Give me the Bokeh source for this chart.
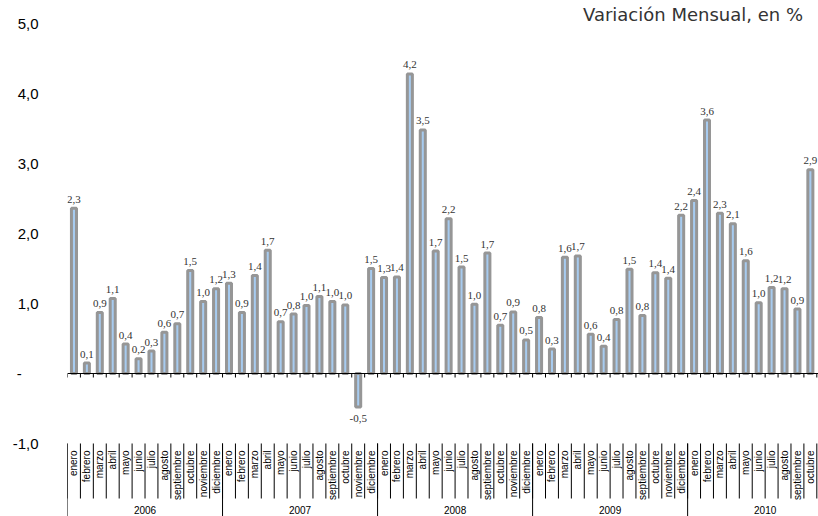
import math
from bokeh.plotting import figure
from bokeh.models import ColumnDataSource, FixedTicker, CustomJSTickFormatter, Range1d
from bokeh.core.properties import value
from bokeh.embed import file_html
from bokeh.resources import INLINE

# ---------------- data ----------------
years = ["2006", "2007", "2008", "2009", "2010"]
months = ["enero", "febrero", "marzo", "abril", "mayo", "junio", "julio",
          "agosto", "septiembre", "octubre", "noviembre", "diciembre"]

v2006 = [2.36, 0.15, 0.87, 1.07, 0.42, 0.21, 0.32, 0.59, 0.71, 1.47, 1.03, 1.21]
v2007 = [1.29, 0.87, 1.40, 1.76, 0.74, 0.85, 0.97, 1.10, 1.03, 0.98, -0.48, 1.50]
v2008 = [1.37, 1.38, 4.28, 3.48, 1.75, 2.21, 1.52, 0.99, 1.72, 0.69, 0.88, 0.48]
v2009 = [0.80, 0.35, 1.66, 1.68, 0.56, 0.39, 0.77, 1.49, 0.83, 1.44, 1.36, 2.26]
v2010 = [2.47, 3.62, 2.29, 2.14, 1.61, 1.01, 1.23, 1.21, 0.92, 2.91]

l2006 = ["2,3", "0,1", "0,9", "1,1", "0,4", "0,2", "0,3", "0,6", "0,7", "1,5", "1,0", "1,2"]
l2007 = ["1,3", "0,9", "1,4", "1,7", "0,7", "0,8", "1,0", "1,1", "1,0", "1,0", "-0,5", "1,5"]
l2008 = ["1,3", "1,4", "4,2", "3,5", "1,7", "2,2", "1,5", "1,0", "1,7", "0,7", "0,9", "0,5"]
l2009 = ["0,8", "0,3", "1,6", "1,7", "0,6", "0,4", "0,8", "1,5", "0,8", "1,4", "1,4", "2,2"]
l2010 = ["2,4", "3,6", "2,3", "2,1", "1,6", "1,0", "1,2", "1,2", "0,9", "2,9"]

y_ticks = [-1, 0, 1, 2, 3, 4, 5]
title_text = "Variación Mensual, en %"

series = [v2006, v2007, v2008, v2009, v2010]
label_series = [l2006, l2007, l2008, l2009, l2010]

vals, labs, mnames = [], [], []
for vs, ls in zip(series, label_series):
    vals += vs
    labs += ls
    mnames += months[:len(vs)]
n = len(vals)
xs = list(range(n))

# ---------------- figure ----------------
Y0, Y1 = -2.043, 5.329
X1 = n - 0.5 + 0.13
p = figure(width=818, height=516, output_backend="svg", toolbar_location=None,
           x_range=Range1d(-0.5, X1), y_range=Range1d(Y0, Y1),
           x_axis_location=None, min_border_left=67, min_border_right=0,
           min_border_top=0, min_border_bottom=0)
p.outline_line_color = None
p.xgrid.visible = False
p.ygrid.visible = False
p.background_fill_color = "white"
p.border_fill_color = "white"

ax = p.yaxis[0]
ax.ticker = FixedTicker(ticks=y_ticks)
ax.formatter = CustomJSTickFormatter(code="""
    if (Math.abs(tick) < 1e-9) { return "-\\u00a0\\u00a0\\u00a0\\u00a0"; }
    return tick.toFixed(1).replace(".", ",");
""")
ax.axis_line_color = None
ax.major_tick_line_color = None
ax.minor_tick_line_color = None
ax.major_tick_out = 0
ax.major_tick_in = 0
ax.major_label_standoff = 29
ax.major_label_text_font = "Liberation Sans"
ax.major_label_text_font_size = "15px"
ax.major_label_text_color = "#000000"

# bars
src = ColumnDataSource(dict(x=xs, top=vals, lab=labs, m=mnames))
p.vbar(x="x", top="top", bottom=0, width=0.39, source=src,
       fill_color="#a7cbef", line_color="#969696", line_width=3)

# zero axis line and tick marks at category boundaries
p.segment(x0=[-0.5], y0=[0], x1=[X1], y1=[0], line_color="#000000", line_width=1)
bounds = [i - 0.5 for i in range(n + 1)]
p.segment(x0=bounds, y0=[0] * len(bounds), x1=bounds, y1=[-4 / 70] * len(bounds),
          line_color="#000000", line_width=1)

# value labels
pos = [i for i in range(n) if vals[i] >= 0]
neg = [i for i in range(n) if vals[i] < 0]
p.text(x=[xs[i] for i in pos], y=[vals[i] for i in pos], text=[labs[i] for i in pos],
       text_align="center", text_baseline="alphabetic", y_offset=-9,
       text_font=value("Liberation Serif"), text_font_size="11px", text_color="#333333")
p.text(x=[xs[i] for i in neg], y=[vals[i] for i in neg], text=[labs[i] for i in neg],
       text_align="center", text_baseline="top", y_offset=8,
       text_font=value("Liberation Serif"), text_font_size="11px", text_color="#333333")

# category labels (months) at the bottom
p.text(x=xs, y=[-1.1] * n, text=mnames, angle=math.pi / 2,
       text_align="right", text_baseline="middle",
       text_font=value("Liberation Sans"), text_font_size="10px", text_color="#000000")
p.segment(x0=bounds, y0=[-1.0] * len(bounds), x1=bounds, y1=[-1.786] * len(bounds),
          line_color="#000000", line_width=1)

# year group labels and separators
ybounds = [k * 12 - 0.5 for k in range(len(years))]
p.segment(x0=ybounds, y0=[-1.0] * len(ybounds), x1=ybounds, y1=[Y0] * len(ybounds),
          line_color="#000000", line_width=1)
p.text(x=[k * 12 + 5.5 for k in range(len(years))], y=[-1.955] * len(years), text=years,
       text_align="center", text_baseline="middle",
       text_font=value("Liberation Sans"), text_font_size="10px", text_color="#000000")

# title
p.text(x=[39.4], y=[5.129], text=[title_text], text_align="left",
       text_baseline="alphabetic", text_font=value("DejaVu Sans"),
       text_font_size="18px", text_color="#333333")

open("out.html", "w").write(file_html(p, INLINE))
